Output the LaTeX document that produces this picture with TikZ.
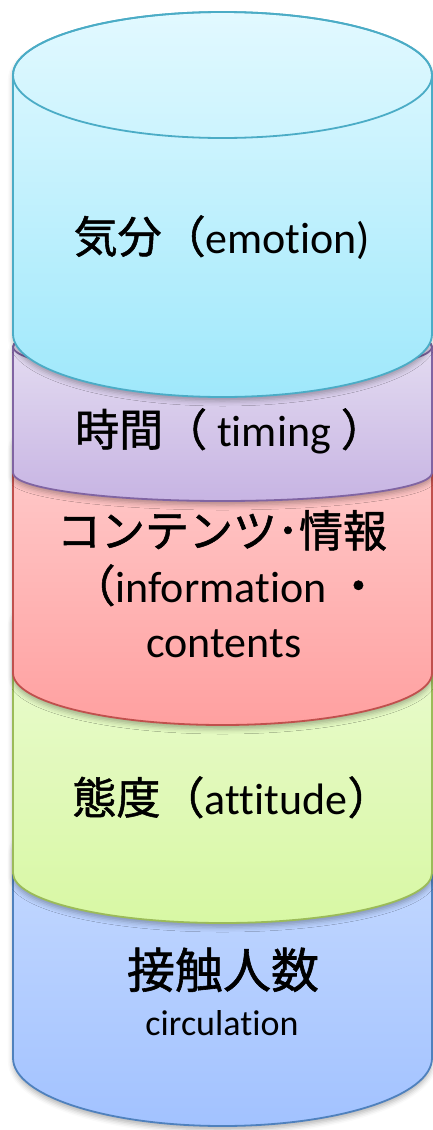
\documentclass[tikz,border=0pt]{standalone}
\usepackage{fontspec}
\setmainfont{Carlito}[Ligatures=NoCommon, Contextuals=NoAlternate]
\newfontfamily\jp{Noto Sans CJK JP}[FakeBold=1.2]
\usetikzlibrary{shadows.blur}
\newcommand{\nl}{\kern0pt }% breaks ligatures
\definecolor{cyanline}{HTML}{4BACC6}
\definecolor{cyantop}{HTML}{E2F9FF}
\definecolor{cyanbot}{HTML}{9FE8FB}
\definecolor{purpline}{HTML}{8064A2}
\definecolor{purptop}{HTML}{E8E2F3}
\definecolor{purpbot}{HTML}{C7B4E3}
\definecolor{redline}{HTML}{C0504D}
\definecolor{redtop}{HTML}{FFD4D4}
\definecolor{redbot}{HTML}{FFA0A0}
\definecolor{greenline}{HTML}{9BBB59}
\definecolor{greentop}{HTML}{EEFBDA}
\definecolor{greenbot}{HTML}{D8F8A4}
\definecolor{blueline}{HTML}{4F81BD}
\definecolor{bluetop}{HTML}{CCDEFF}
\definecolor{bluebot}{HTML}{A2C2FF}
\newcommand{\cylshape}[7]{%
  \path[draw=#5, rim, top color=#6, bottom color=#7, softshadow]
    (13,-#2) -- (13,-#3)
    arc[start angle=180, end angle=360, x radius=209.5, y radius=#4]
    -- (432,-#2)
    arc[start angle=0, end angle=180, x radius=209.5, y radius=#4] -- cycle;
  \draw[#5, rim] (222.5,-#2) ellipse[x radius=209.5, y radius=#4];
  \coordinate (#1) at (222.5,-#2);
}
\begin{document}
\begin{tikzpicture}[x=1pt, y=1pt,
  rim/.style={line width=1.8pt},
  softshadow/.style={blur shadow={shadow xshift=0pt, shadow yshift=-4pt, shadow blur radius=5pt, shadow opacity=30}},
  lbl/.style={anchor=base, inner sep=0pt, text=black},
  big/.style={font=\fontsize{44}{50}\selectfont},
  small/.style={font=\fontsize{36}{42}\selectfont}]
\useasboundingbox (0,0) rectangle (433,-1130);
% from bottom to top
\cylshape{circ}{850}{1058}{68}{blueline}{bluetop}{bluebot}
\cylshape{att}{620}{873}{50}{greenline}{greentop}{greenbot}
\cylshape{cont}{445}{673}{52}{redline}{redtop}{redbot}
\cylshape{tim}{347}{473}{28}{purpline}{purptop}{purpbot}
\cylshape{emo}{75}{334}{63}{cyanline}{cyantop}{cyanbot}
% labels
\node[lbl, big] (temo) at (222,-253) {{\jp 気分（}emot\nl ion)};
\node[lbl, big] (ttim) at (230,-446) {{\jp 時間（} t\nl iming {\jp ）}};
\node[lbl, big] (tcont1) at (222,-547) {{\jp コンテンツ･情報}};
\node[lbl, big] (tcont2) at (226,-602) {{\jp （}informat\nl ion {\jp ・}};
\node[lbl, big] (tcont3) at (224,-657) {contents};
\node[lbl, big] (tatt) at (232,-814) {{\jp 態度（}at\nl t\nl it\nl ude{\jp ）}};
\node[lbl, font=\fontsize{48}{54}\selectfont] (tcirc1) at (223,-988) {{\jp 接触人数}};
\node[lbl, small] (tcirc2) at (222,-1035) {circulat\nl ion};
\end{tikzpicture}
\end{document}
